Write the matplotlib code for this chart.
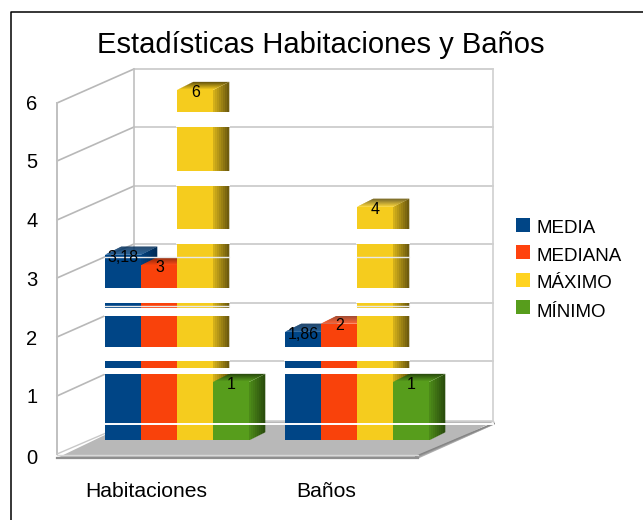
import matplotlib
matplotlib.use("Agg")
import matplotlib.pyplot as plt
import matplotlib.colors as mcolors
from matplotlib.patches import Polygon, Rectangle

plt.rcParams['font.family'] = ['Liberation Sans', 'DejaVu Sans']

categories = ["Habitaciones", "Baños"]
series_names = ["MEDIA", "MEDIANA", "MÁXIMO", "MÍNIMO"]
media = [3.18, 1.86]
mediana = [3, 2]
maximo = [6, 4]
minimo = [1, 1]
value_labels = [["3,18", "3", "6", "1"], ["1,86", "2", "4", "1"]]
y_ticks = [0, 1, 2, 3, 4, 5, 6]

colors = ["#004586", "#f9420b", "#f5cc1e", "#579d1c"]
legend_colors = ["#004586", "#ff420e", "#ffd320", "#579d1c"]
dark_colors = ["#002c58", "#8f2606", "#6f5c0e", "#2b4f0d"]

W, H = 643, 520
fig = plt.figure(figsize=(W / 100, H / 100), dpi=100)

# background axes in pixels: frame, walls, floor, text
bg = fig.add_axes([0, 0, 1, 1])
bg.set_xlim(0, W)
bg.set_ylim(H, 0)
bg.axis("off")

bg.plot([10.5, 10.5, W], [H, 11.5, 11.5], color="black", lw=1.1)

# floor
bg.add_patch(Polygon([(57, 458), (134, 421), (495, 421), (418, 458)], fc="#b8b8b8", ec="none"))
for i in range(5):
    shade = 0.72 - i * 0.05
    bg.plot([418 - i * 0.6, 494], [458 - i * 0.4, 424 - i * 0.2], color=str(shade), lw=0.9)
bg.plot([57, 418], [454.5, 454.5], color="#d8d8d8", lw=1)
bg.plot([57, 418], [457.5, 457.5], color="#8f8f8f", lw=1.6)
bg.plot([134, 493], [421, 421], color="#cfcfcf", lw=1.2)

# walls
back_y = [361, 303, 244, 186, 127, 69]
front_y = [396, 337, 278, 220, 161, 103]
for by, fy in zip(back_y, front_y):
    bg.plot([57, 134], [fy, by], color="#b8b8b8", lw=1.2)
    bg.plot([134, 493], [by, by], color="#c8c8c8", lw=1.2)
bg.plot([57, 57], [103, 454], color="#c0c0c0", lw=1.4)
bg.plot([134, 134], [69, 421], color="#c0c0c0", lw=1.2)
bg.plot([493, 493], [69, 421], color="#d0d0d0", lw=1.2)
bg.plot([57, 134], [454, 421], color="#c8c8c8", lw=1.0)

for v, py in zip(y_ticks, [464, 403, 345, 286, 227, 168, 110]):
    bg.text(32, py, str(v), fontsize=14.5, ha="center", va="baseline")

bg.text(321, 53, "Estadísticas Habitaciones y Baños", fontsize=21, ha="center", va="baseline")
bg.text(146.5, 497, categories[0], fontsize=15.2, ha="center", va="baseline")
bg.text(326, 497, categories[1], fontsize=15.2, ha="center", va="baseline")

for name, color, sq, base in zip(series_names, legend_colors, [218, 245, 273, 300], [233, 261, 288, 317]):
    bg.add_patch(Rectangle((516, sq), 14, 14, fc=color, ec="none"))
    bg.text(537, base, name, fontsize=13.5, ha="left", va="baseline")

# bar axes: x in pixels across the plot, y in values. base at 440 px, 58.4 px per unit
ax_left, ax_right = 60, 520
y_top = 7.0
base_px = 440.4
unit_px = 58.4
ax = fig.add_axes([ax_left / W, (H - base_px) / H, (ax_right - ax_left) / W, y_top * unit_px / H])
ax.set_xlim(ax_left, ax_right)
ax.set_ylim(0, y_top)
ax.axis("off")
ax.patch.set_alpha(0)

group_left = [105, 285]
bar_w = 36
depth_x = 16
depth_y = 8 / unit_px
all_values = [media, mediana, maximo, minimo]
strips = 8


def mix(c1, c2, t):
    a = mcolors.to_rgb(c1)
    b = mcolors.to_rgb(c2)
    return tuple(a[i] * (1 - t) + b[i] * t for i in range(3))


for g in range(2):
    for s in range(4):
        val = all_values[s][g]
        x0 = group_left[g] + s * bar_w
        x1 = x0 + bar_w
        # side and top faces get darker going back
        for i in range(strips):
            t0 = i / strips
            t1 = (i + 1.15) / strips
            c = mix(colors[s], dark_colors[s], 0.25 + 0.75 * i / (strips - 1))
            ax.add_patch(Polygon([(x1 + depth_x * t0, depth_y * t0), (x1 + depth_x * t1, depth_y * t1),
                                  (x1 + depth_x * t1, val + depth_y * t1), (x1 + depth_x * t0, val + depth_y * t0)],
                                 fc=c, ec="none", zorder=2 + s))
            c = mix(colors[s], dark_colors[s], i / (strips - 1))
            ax.add_patch(Polygon([(x0 + depth_x * t0, val + depth_y * t0), (x1 + depth_x * t0, val + depth_y * t0),
                                  (x1 + depth_x * t1, val + depth_y * t1), (x0 + depth_x * t1, val + depth_y * t1)],
                                 fc=c, ec="none", zorder=2 + s))
        ax.bar(x0, val, width=bar_w, align="edge", color=colors[s], zorder=2 + s)

# white bands crossing the bars, pixel rows from the picture
bands = [(112, 127), (171, 186), (229, 244), (288, 303), (308, 316), (347, 361), (368, 374)]
for top, bot in bands:
    for g in range(2):
        x0 = group_left[g]
        right = x0 + 3 * bar_w + depth_x
        v_top = (base_px - top) / unit_px
        v_bot = (base_px - bot) / unit_px
        if maximo[g] > v_bot:
            left = x0 + 2 * bar_w
            if max(media[g], mediana[g]) + depth_y > v_bot:
                left = x0
            ax.fill_between([left - 1, right + 1], v_bot, v_top, color="white", lw=0, zorder=8)
for g in range(2):
    for py in [257, 306]:
        v = (base_px - py) / unit_px
        if maximo[g] > v:
            left = group_left[g] if media[g] > v else group_left[g] + 2 * bar_w
            ax.plot([left, group_left[g] + 3 * bar_w + depth_x], [v, v], color="#e8e8e8", lw=1.0, zorder=9)

v = (base_px - 423.6) / unit_px
ax.plot([105, 493], [v, v], color="white", lw=1.4, zorder=9)

for g in range(2):
    for s in range(4):
        val = all_values[s][g]
        ax.text(group_left[g] + s * bar_w + bar_w / 2 + 0.5, val - 0.04, value_labels[g][s],
                fontsize=11.5, ha="center", va="center", zorder=10)

fig.savefig("out.png", dpi=100)
